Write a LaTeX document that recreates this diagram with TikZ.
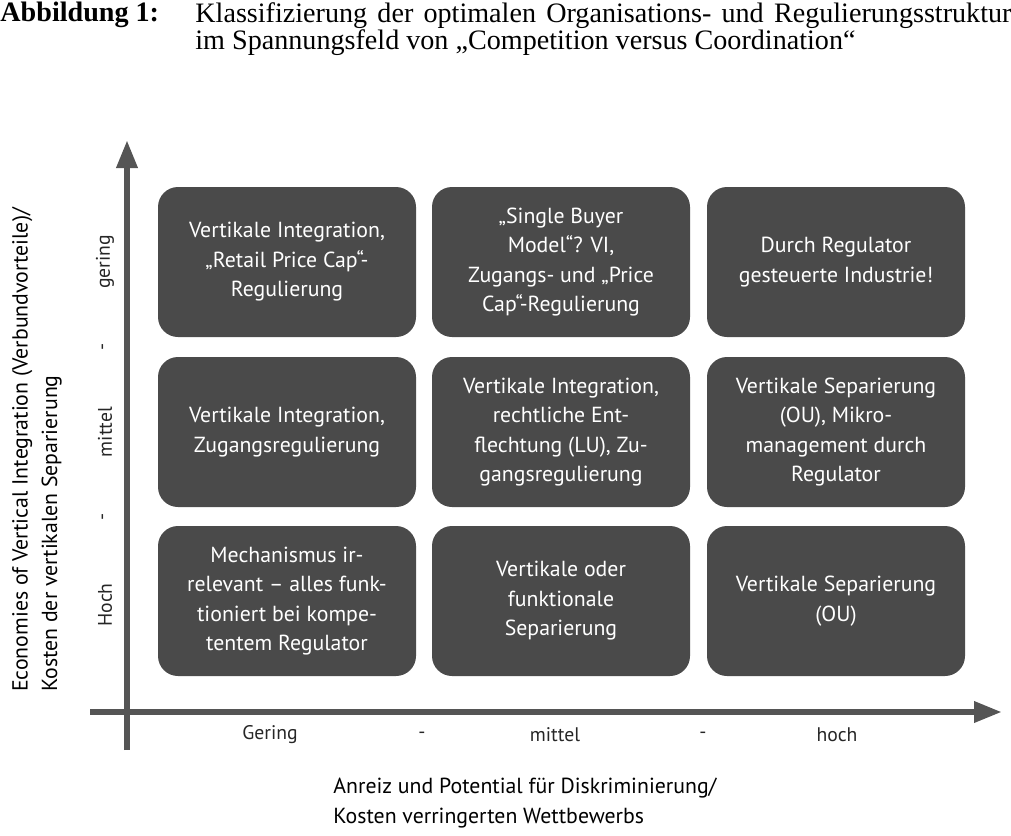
\documentclass[tikz,border=0pt]{standalone}
\usepackage{fontspec}
\setmainfont{Liberation Serif}
\setsansfont{PT Sans}
\usetikzlibrary{arrows.meta}
\definecolor{boxgray}{HTML}{4A4A4A}
\definecolor{axisgray}{HTML}{555555}

\begin{document}
\begin{tikzpicture}[
            x = 0.025cm,
            y = -0.025cm,
            > = {Triangle[length=7mm,width=5mm]},
            semithick
        ]
        \tikzset{
            cell/.style = {
                fill = boxgray,
                rounded corners = 5mm,
                minimum width = 258*0.025cm,
                minimum height = 150*0.025cm,
                text = white,
                align = center,
                font = \sffamily\fontsize{15.5}{21}\selectfont
            },
            axis/.style = {axisgray, line width = 1.6mm, ->},
            tick/.style = {font = \sffamily\fontsize{14}{18}\selectfont, text = black!85},
            caption/.style = {font = \sffamily\fontsize{15.5}{21}\selectfont, align = left}
        }
        \useasboundingbox (0,0) rectangle (1011,835);

        % title
        \node[anchor = north west, inner sep = 0] (lbl) at (0,2)
            {\fontsize{20}{25}\selectfont\textbf{Abbildung 1:}};
        \node[anchor = north west, inner sep = 0, text width = 816*0.025cm,
              align = justify] (ttl) at (195,2)
            {\fontsize{20}{25}\selectfont Klassifizierung der optimalen Organisations- und Regulie\-rungsstruktur im Spannungsfeld von „Competition versus Coordination“};

        % axes
        \coordinate (yb) at (127,750);
        \coordinate (yt) at (127,140);
        \coordinate (xl) at (90,712);
        \coordinate (xr) at (1002,712);
        \draw[axis] (yb) -- (yt);
        \draw[axis] (xl) -- (xr);

        % cells
        \node[cell] (c11) at (287,262) {Vertikale Integration,\\„Retail Price Cap“-\\Regulierung};
        \node[cell] (c12) at (561,262) {„Single Buyer\\Model“? VI,\\Zugangs- und „Price\\Cap“-Regulierung};
        \node[cell] (c13) at (836,262) {Durch Regulator\\gesteuerte Industrie!};
        \node[cell] (c21) at (287,432) {Vertikale Integration,\\Zugangsregulierung};
        \node[cell] (c22) at (561,432) {Vertikale Integration,\\rechtliche Ent-\\flechtung (LU), Zu-\\gangsregulierung};
        \node[cell] (c23) at (836,432) {Vertikale Separierung\\(OU), Mikro-\\management durch\\Regulator};
        \node[cell] (c31) at (287,601) {Mechanismus ir-\\relevant – alles funk-\\tioniert bei kompe-\\tentem Regulator};
        \node[cell] (c32) at (561,601) {Vertikale oder\\funktionale\\Separierung};
        \node[cell] (c33) at (836,601) {Vertikale Separierung\\(OU)};

        % y ticks
        \node[tick, rotate = 90] (yh) at (105,605) {Hoch};
        \node[tick, rotate = 90] (yd1) at (105,517) {-};
        \node[tick, rotate = 90] (ym) at (105,432) {mittel};
        \node[tick, rotate = 90] (yd2) at (105,347) {-};
        \node[tick, rotate = 90] (yg) at (105,262) {gering};

        % x ticks
        \node[tick] (xg) at (270,735) {Gering};
        \node[tick] (xd1) at (422,735) {-};
        \node[tick] (xm) at (555,735) {mittel};
        \node[tick] (xd2) at (703,735) {-};
        \node[tick] (xh) at (837,735) {hoch};

        % axis titles
        \node[caption, rotate = 90, anchor = center] (ytl) at (37,450)
            {Economies of Vertical Integration (Verbundvorteile)/\\Kosten der vertikalen Separierung};
        \node[caption, anchor = north west, inner sep = 0] (xtl) at (333,778)
            {Anreiz und Potential für Diskriminierung/\\Kosten verringerten Wettbewerbs};
\end{tikzpicture}
\end{document}
